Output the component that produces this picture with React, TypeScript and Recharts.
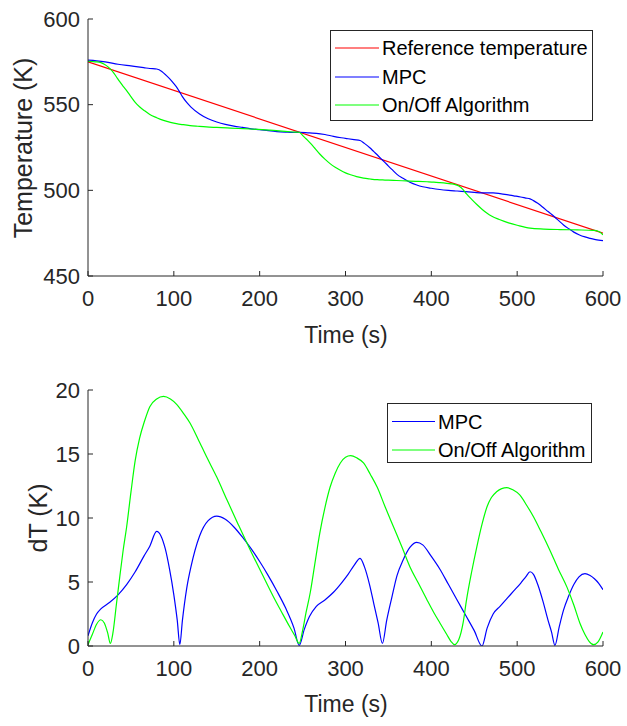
import React from 'react';
import { LineChart, Line, XAxis, YAxis } from 'recharts';

// ---------- ticks ----------
const timeTicks = [0, 100, 200, 300, 400, 500, 600];
const tempTicks = [450, 500, 550, 600];
const dTTicks = [0, 5, 10, 15, 20];

// ---------- series names / colours ----------
const topSeriesNames = ['Reference temperature', 'MPC', 'On/Off Algorithm'];
const topSeriesColors = ['#ff0000', '#0000ff', '#00ff00'];
const bottomSeriesNames = ['MPC', 'On/Off Algorithm'];
const bottomSeriesColors = ['#0000ff', '#00ff00'];

// ---------- top plot: temperature ----------
const refTime = [0, 600];
const refTemp = [575, 475];

const mpcTempTime = [0, 10, 20, 35, 50, 65, 72, 80, 86, 90, 95, 100, 104, 107, 110, 115, 120, 130, 140, 150, 160, 170, 180, 190, 200, 210, 220, 230, 240, 246, 258, 266, 276, 286, 295, 303, 310, 317, 322, 328, 333, 338, 343, 348, 354, 360, 367, 375, 383, 390, 400, 410, 420, 430, 440, 450, 459, 465, 472, 480, 488, 496, 504, 510, 515, 519, 524, 530, 536, 540, 544, 549, 554, 560, 566, 572, 579, 585, 590, 595, 600];
const mpcTemp = [576.0, 575.6, 575.0, 573.6, 572.6, 571.6, 571.1, 570.8, 569.4, 567.6, 565.2, 562.3, 559.7, 557.2, 554.7, 551.3, 548.6, 544.6, 541.8, 539.9, 538.5, 537.5, 536.7, 535.9, 535.4, 534.8, 534.3, 534.0, 533.8, 533.9, 533.5, 533.3, 532.6, 531.5, 530.7, 530.1, 529.6, 529.1, 527.4, 525.0, 522.6, 520.2, 517.7, 515.2, 512.2, 509.3, 507.0, 504.7, 503.1, 502.1, 501.2, 500.5, 500.0, 499.6, 499.2, 498.8, 498.5, 498.5, 498.5, 498.1, 497.5, 496.8, 496.1, 495.5, 495.0, 494.0, 492.4, 490.1, 487.6, 486.0, 484.3, 482.0, 479.8, 477.6, 475.6, 474.1, 472.8, 472.0, 471.4, 470.9, 470.6];

const onOffTempTime = [0, 5, 10, 15, 19, 23, 26, 29, 33, 37, 41, 45, 50, 55, 60, 66, 72, 80, 88, 96, 103, 111, 119, 128, 138, 150, 162, 175, 189, 203, 216, 226, 235, 241, 246, 250, 254, 259, 264, 270, 276, 282, 288, 294, 300, 306, 313, 321, 329, 337, 346, 356, 366, 375, 385, 395, 403, 410, 418, 423, 427, 432, 437, 441, 447, 453, 459, 465, 470, 480, 490, 500, 515, 531, 550, 570, 589, 595, 600];
const onOffTemp = [575.3, 575.2, 575.0, 574.5, 573.6, 572.2, 570.8, 569.2, 566.3, 563.4, 560.7, 558.2, 554.7, 551.3, 548.8, 546.4, 544.3, 542.4, 540.8, 539.7, 538.9, 538.3, 537.8, 537.4, 537.0, 536.7, 536.4, 536.1, 535.8, 535.4, 535.0, 534.6, 534.2, 534.0, 533.9, 532.1, 530.1, 527.6, 524.7, 521.2, 518.2, 515.6, 513.5, 511.7, 510.2, 509.1, 508.0, 507.1, 506.6, 506.2, 506.0, 505.8, 505.6, 505.4, 505.2, 505.0, 504.8, 504.5, 504.1, 503.8, 503.5, 502.5, 500.4, 497.9, 494.7, 491.7, 489.0, 486.6, 485.0, 482.8, 481.0, 479.6, 477.9, 477.4, 477.1, 476.9, 476.6, 476.0, 474.0];

// ---------- bottom plot: dT ----------
const mpcDTTime = [0, 5, 10, 15, 25, 35, 45, 55, 65, 72, 80, 85, 90, 95, 100, 104, 107, 110, 115, 120, 130, 140, 150, 160, 170, 180, 190, 200, 210, 220, 230, 240, 246, 252, 258, 266, 276, 286, 295, 303, 310, 317, 322, 328, 333, 338, 343, 348, 354, 360, 367, 375, 383, 390, 400, 410, 420, 430, 440, 450, 459, 465, 472, 480, 488, 496, 504, 510, 515, 519, 524, 530, 536, 540, 544, 549, 554, 560, 566, 572, 579, 585, 590, 595, 600];
const mpcDT = [0.8, 1.8, 2.5, 2.9, 3.4, 4.0, 4.8, 5.8, 7.0, 7.8, 8.95, 8.6, 7.6, 6.0, 4.0, 2.0, 0.1, 2.0, 4.5, 6.2, 8.6, 9.8, 10.15, 9.9, 9.3, 8.5, 7.6, 6.6, 5.5, 4.3, 3.0, 1.4, 0.05, 1.3, 2.3, 3.1, 3.6, 4.2, 4.9, 5.6, 6.3, 6.85, 6.2, 4.8, 3.3, 1.8, 0.2, 2.0, 3.8, 5.5, 6.7, 7.7, 8.1, 7.9, 7.0, 6.0, 4.8, 3.6, 2.4, 1.2, 0.0, 1.4, 2.5, 3.1, 3.7, 4.3, 4.9, 5.4, 5.8, 5.6, 4.8, 3.5, 2.0, 1.1, 0.05, 1.5, 2.8, 3.9, 4.8, 5.4, 5.65, 5.5, 5.25, 4.9, 4.4];

const onOffDTTime = [0, 5, 10, 15, 19, 23, 26, 29, 33, 37, 41, 45, 50, 55, 60, 66, 72, 80, 88, 96, 103, 111, 119, 128, 138, 150, 162, 175, 189, 203, 216, 226, 235, 241, 246, 250, 254, 259, 264, 270, 276, 282, 288, 294, 300, 306, 313, 321, 329, 337, 346, 356, 366, 375, 385, 395, 403, 410, 418, 423, 427, 432, 437, 441, 447, 453, 459, 465, 470, 476, 482, 488, 495, 503, 511, 519, 528, 538, 548, 558, 566, 573, 579, 584, 589, 594, 600];
const onOffDT = [0.1, 0.9, 1.7, 2.05, 1.8, 1.0, 0.2, 1.0, 3.2, 5.4, 7.5, 9.3, 12.0, 14.5, 16.2, 17.6, 18.7, 19.3, 19.5, 19.3, 18.9, 18.2, 17.4, 16.2, 14.8, 13.2, 11.4, 9.5, 7.5, 5.6, 3.85, 2.6, 1.5, 0.8, 0.2, 1.2, 2.6, 4.2, 6.3, 8.8, 10.8, 12.4, 13.5, 14.3, 14.75, 14.87, 14.7, 14.3, 13.4, 12.4, 10.9, 9.3, 7.7, 6.2, 4.9, 3.6, 2.6, 1.8, 0.9, 0.35, 0.1, 0.5, 1.8, 3.6, 5.8, 7.75, 9.5, 10.9, 11.6, 12.05, 12.3, 12.37, 12.2, 11.8, 11.0, 10.1, 8.9, 7.5, 6.0, 4.6, 3.2, 1.8, 0.9, 0.35, 0.1, 0.3, 1.1];

const toPoints = (ts: number[], vs: number[]) => ts.map((t, i) => ({ t, v: vs[i] }));

const FONT = '"Liberation Sans", Arial, Helvetica, sans-serif';
const AX = '#262626';
const W = 627;

const tickStyle = { fill: AX, fontSize: 22, fontFamily: FONT };

function Frame(props: { timeDomain: number[]; yDomain: number[]; yTicks: number[] }) {
  return null;
}

function axes(yDomain: number[], yTicks: number[], xHeight: number) {
  return [
    <XAxis
      key="xb"
      xAxisId="b"
      type="number"
      dataKey="t"
      domain={[0, 600]}
      ticks={timeTicks}
      interval={0}
      allowDataOverflow
      stroke={AX}
      tickSize={-5}
      tickMargin={19}
      height={xHeight}
      tick={tickStyle}
    />,
    <XAxis
      key="xt"
      xAxisId="t"
      orientation="top"
      type="number"
      dataKey="t"
      domain={[0, 600]}
      ticks={timeTicks}
      interval={0}
      allowDataOverflow
      stroke={AX}
      tickSize={-5}
      height={0}
      tick={false}
    />,
    <YAxis
      key="yl"
      yAxisId="l"
      type="number"
      domain={yDomain}
      ticks={yTicks}
      interval={0}
      allowDataOverflow
      stroke={AX}
      tickSize={-5}
      tickMargin={13}
      width={88}
      tick={tickStyle}
    />,
    <YAxis
      key="yr"
      yAxisId="r"
      orientation="right"
      type="number"
      domain={yDomain}
      ticks={yTicks}
      interval={0}
      allowDataOverflow
      stroke={AX}
      tickSize={-5}
      width={0}
      tick={false}
    />,
  ];
}

export default function App() {
  const ref = toPoints(refTime, refTemp);
  const mpcT = toPoints(mpcTempTime, mpcTemp);
  const onT = toPoints(onOffTempTime, onOffTemp);
  const mpcD = toPoints(mpcDTTime, mpcDT);
  const onD = toPoints(onOffDTTime, onOffDT);

  const topData = [ref, mpcT, onT];
  const bottomData = [mpcD, onD];

  return (
    <div style={{ position: 'absolute', left: 0, top: 0, width: W, height: 726, background: '#fff', fontFamily: FONT }}>
      <div style={{ position: 'absolute', left: 0, top: 0 }}>
        <LineChart width={W} height={360} margin={{ top: 19, right: 24, bottom: 0, left: 0 }}>
          {axes([450, 600], tempTicks, 84)}
          {topData.map((d, i) => (
            <Line
              key={topSeriesNames[i]}
              name={topSeriesNames[i]}
              data={d}
              dataKey="v"
              xAxisId="b"
              yAxisId="l"
              type={i === 0 ? 'linear' : 'monotone'}
              stroke={topSeriesColors[i]}
              strokeWidth={1.2}
              dot={false}
              activeDot={false}
              isAnimationActive={false}
            />
          ))}
        </LineChart>
      </div>
      <div style={{ position: 'absolute', left: 0, top: 360 }}>
        <LineChart width={W} height={366} margin={{ top: 30, right: 24, bottom: 0, left: 0 }}>
          {axes([0, 20], dTTicks, 80)}
          {bottomData.map((d, i) => (
            <Line
              key={bottomSeriesNames[i]}
              name={bottomSeriesNames[i]}
              data={d}
              dataKey="v"
              xAxisId="b"
              yAxisId="l"
              type="monotone"
              stroke={bottomSeriesColors[i]}
              strokeWidth={1.2}
              dot={false}
              activeDot={false}
              isAnimationActive={false}
            />
          ))}
        </LineChart>
      </div>
      <svg
        width={W}
        height={726}
        style={{ position: 'absolute', left: 0, top: 0, pointerEvents: 'none' }}
        fontFamily={FONT}
      >
        {/* axis titles */}
        <text x={346} y={343} textAnchor="middle" fontSize={23} fill={AX}>Time (s)</text>
        <text x={346} y={712} textAnchor="middle" fontSize={23} fill={AX}>Time (s)</text>
        <text x={32} y={148} textAnchor="middle" fontSize={25} fill={AX} transform="rotate(-90 32 148)">Temperature (K)</text>
        <text x={47} y={518} textAnchor="middle" fontSize={25} fill={AX} transform="rotate(-90 47 518)">dT (K)</text>

        {/* top legend */}
        <rect x={330.5} y={30.5} width={262} height={90} fill="#fff" stroke={AX} strokeWidth={1} />
        {topSeriesNames.map((n, i) => {
          const cy = [48, 77, 105][i];
          return (
            <g key={n}>
              <line x1={335} x2={379} y1={cy} y2={cy} stroke={topSeriesColors[i]} strokeWidth={1.2} />
              <text x={382} y={cy + 7} fontSize={20} fill="#000">{n}</text>
            </g>
          );
        })}

        {/* bottom legend */}
        <rect x={387.5} y={403.5} width={204} height={59} fill="#fff" stroke={AX} strokeWidth={1} />
        {bottomSeriesNames.map((n, i) => {
          const cy = [421.5, 450][i];
          return (
            <g key={n}>
              <line x1={392} x2={435} y1={cy} y2={cy} stroke={bottomSeriesColors[i]} strokeWidth={1.2} />
              <text x={438} y={cy + 7} fontSize={20} fill="#000">{n}</text>
            </g>
          );
        })}
      </svg>
    </div>
  );
}
